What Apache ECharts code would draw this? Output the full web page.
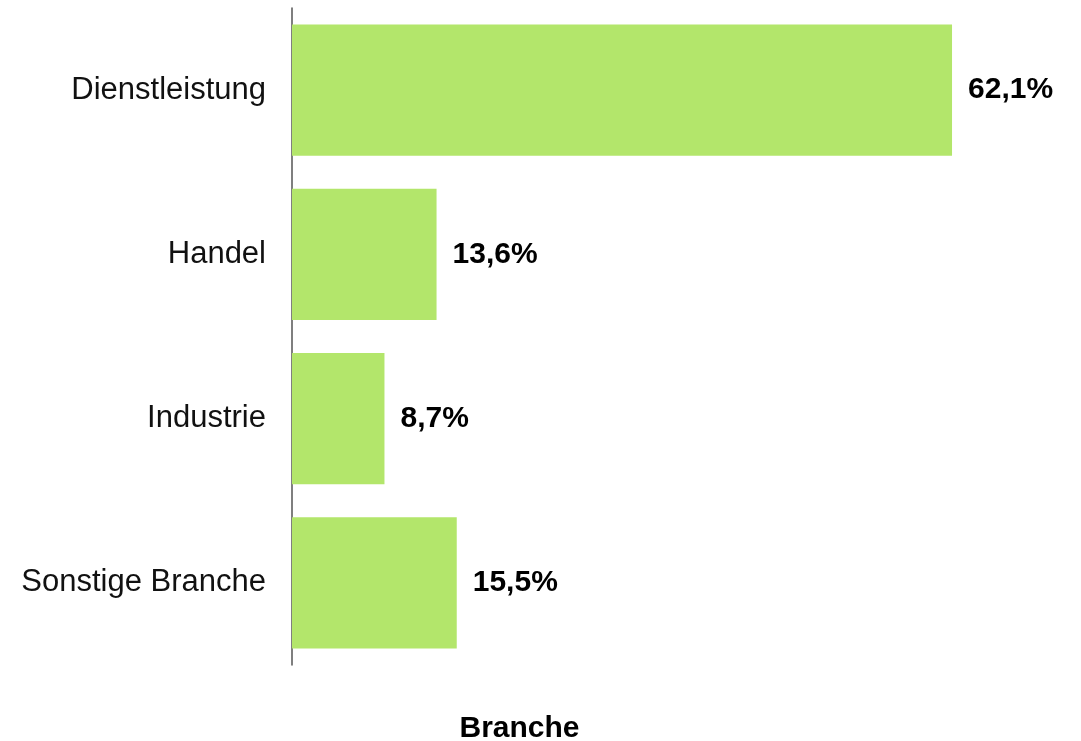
<!DOCTYPE html>
<html><head><meta charset="utf-8">
<script src="https://cdn.jsdelivr.net/npm/echarts@6/dist/echarts.min.js"></script>
<style>html,body{margin:0;padding:0;background:#fff}#c{width:1081px;height:741px}</style>
</head><body><div id="c"></div>
<script>
const categories = ["Dienstleistung", "Handel", "Industrie", "Sonstige Branche"];
const values = [62.1, 13.6, 8.7, 15.5];
const axisTitle = "Branche";

const chart = echarts.init(document.getElementById('c'));
chart.setOption({
  animation: false,
  backgroundColor: '#ffffff',
  graphic: [{
    type: 'text', x: 519.5, y: 729,
    style: {
      text: axisTitle, textAlign: 'center', textVerticalAlign: 'middle',
      font: 'bold 30px "Liberation Sans"', fill: '#000'
    }
  }],
  grid: {left: 292, right: 45, top: 8, bottom: 76, containLabel: false},
  xAxis: {
    type: 'value', min: 0, max: 70, show: false
  },
  yAxis: {
    type: 'category', data: categories, inverse: true,
    axisLine: {show: true, lineStyle: {color: '#555', width: 1.5}},
    axisTick: {show: false},
    axisLabel: {margin: 26, fontFamily: 'Liberation Sans', fontSize: 31, color: '#111', padding: [4, 0, 0, 0]}
  },
  series: [{
    type: 'bar', data: values, barWidth: '80%',
    itemStyle: {color: '#b3e66b'},
    label: {
      show: true, position: 'right', distance: 16, padding: [5, 0, 0, 0],
      fontFamily: 'Liberation Sans', fontWeight: 'bold', fontSize: 30, color: '#000',
      formatter: p => p.value.toFixed(1).replace('.', ',') + '%'
    }
  }]
});
</script></body></html>
